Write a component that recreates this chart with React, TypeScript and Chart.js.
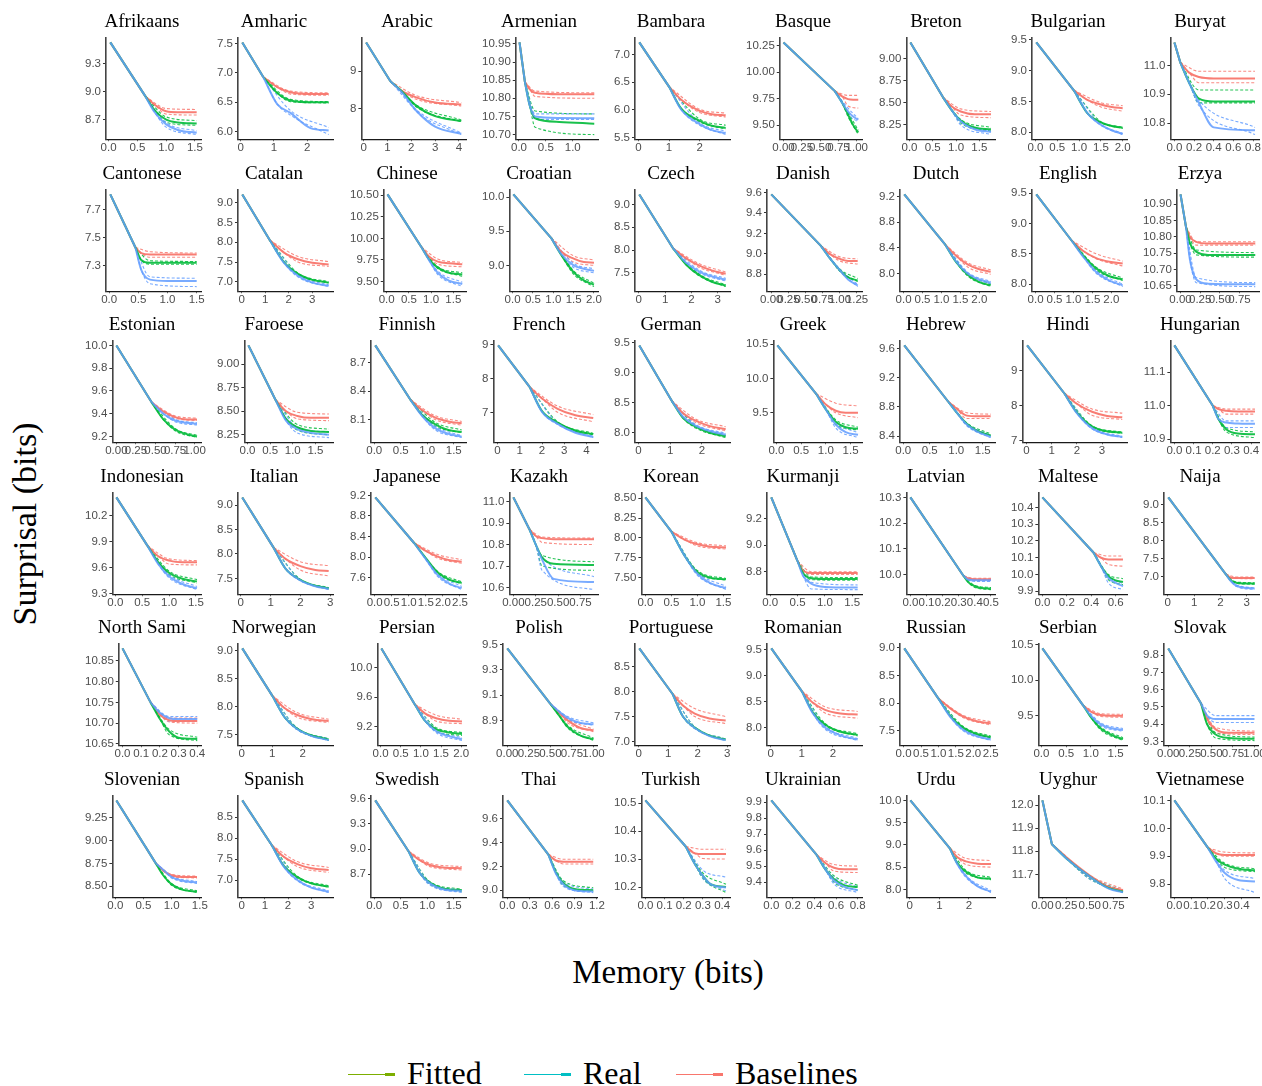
import React, { useEffect, useRef } from "react";
import { Chart, registerables } from "chart.js";

Chart.register(...registerables);

const LANGUAGES = [
  "Afrikaans", "Amharic", "Arabic", "Armenian", "Bambara", "Basque", "Breton", "Bulgarian", "Buryat",
  "Cantonese", "Catalan", "Chinese", "Croatian", "Czech", "Danish", "Dutch", "English", "Erzya",
  "Estonian", "Faroese", "Finnish", "French", "German", "Greek", "Hebrew", "Hindi", "Hungarian",
  "Indonesian", "Italian", "Japanese", "Kazakh", "Korean", "Kurmanji", "Latvian", "Maltese", "Naija",
  "North Sami", "Norwegian", "Persian", "Polish", "Portuguese", "Romanian", "Russian", "Serbian", "Slovak",
  "Slovenian", "Spanish", "Swedish", "Thai", "Turkish", "Ukrainian", "Urdu", "Uyghur", "Vietnamese",
];

// memory (bits) sample points: start, knee, then four points to the end
const MEMORY_X = [
  [0.03, 0.64, 0.8, 1.0, 1.2, 1.53], [0.05, 0.68, 1.1, 1.5, 2.1, 2.65], [0.1, 1.12, 1.6, 2.2, 3.0, 4.1],
  [0.01, 0.11, 0.2, 0.3, 0.75, 1.4], [0.03, 1.0, 1.4, 2.0, 2.4, 2.85], [0.0, 0.7, 0.8, 0.88, 0.95, 1.02],
  [0.02, 0.72, 0.9, 1.1, 1.4, 1.75], [0.02, 0.88, 1.2, 1.5, 1.75, 2.0], [0.0, 0.06, 0.15, 0.25, 0.4, 0.82],
  [0.02, 0.45, 0.55, 0.7, 1.0, 1.5], [0.03, 1.2, 1.8, 2.4, 3.0, 3.7], [0.02, 0.78, 0.95, 1.15, 1.4, 1.7],
  [0.02, 0.95, 1.2, 1.5, 1.75, 2.0], [0.02, 1.3, 1.8, 2.3, 2.8, 3.3], [0.0, 0.72, 0.85, 1.0, 1.12, 1.26],
  [0.02, 1.1, 1.4, 1.7, 2.0, 2.3], [0.02, 0.95, 1.25, 1.6, 1.95, 2.3], [0.0, 0.07, 0.12, 0.2, 0.35, 0.95],
  [0.0, 0.45, 0.6, 0.75, 0.9, 1.03], [0.02, 0.62, 0.85, 1.1, 1.4, 1.8], [0.02, 0.68, 0.9, 1.15, 1.4, 1.65],
  [0.03, 1.45, 2.0, 2.7, 3.5, 4.3], [0.03, 1.05, 1.4, 1.8, 2.25, 2.75], [0.02, 0.8, 1.0, 1.2, 1.4, 1.65],
  [0.02, 0.85, 1.0, 1.2, 1.4, 1.65], [0.03, 1.5, 2.0, 2.6, 3.2, 3.8], [0.0, 0.2, 0.23, 0.27, 0.33, 0.42],
  [0.02, 0.6, 0.8, 1.0, 1.25, 1.52], [0.05, 1.1, 1.5, 2.0, 2.5, 2.95], [0.02, 1.15, 1.5, 1.85, 2.2, 2.55],
  [0.0, 0.18, 0.25, 0.32, 0.45, 0.9], [0.0, 0.5, 0.75, 1.0, 1.25, 1.55], [0.02, 0.5, 0.6, 0.75, 1.0, 1.6],
  [0.0, 0.33, 0.36, 0.4, 0.44, 0.5], [0.0, 0.42, 0.48, 0.54, 0.6, 0.66], [0.02, 2.2, 2.4, 2.6, 2.9, 3.3],
  [0.0, 0.15, 0.2, 0.25, 0.3, 0.4], [0.02, 1.0, 1.4, 1.8, 2.3, 2.85], [0.02, 0.85, 1.1, 1.4, 1.7, 2.02],
  [0.0, 0.5, 0.6, 0.7, 0.85, 1.0], [0.02, 1.15, 1.5, 1.9, 2.4, 2.95], [0.02, 1.0, 1.35, 1.75, 2.25, 2.8],
  [0.02, 1.0, 1.35, 1.7, 2.1, 2.5], [0.02, 0.85, 1.0, 1.2, 1.45, 1.65], [0.0, 0.38, 0.45, 0.55, 0.7, 1.0],
  [0.02, 0.72, 0.85, 1.0, 1.2, 1.45], [0.03, 1.3, 1.8, 2.4, 3.0, 3.75], [0.02, 0.65, 0.85, 1.05, 1.3, 1.65],
  [0.0, 0.55, 0.65, 0.75, 0.9, 1.15], [0.0, 0.21, 0.26, 0.3, 0.34, 0.42], [0.0, 0.42, 0.5, 0.58, 0.68, 0.8],
  [0.02, 1.35, 1.6, 1.9, 2.3, 2.75], [0.0, 0.1, 0.25, 0.5, 0.7, 0.85], [0.0, 0.2, 0.25, 0.3, 0.38, 0.48],
];

// surprisal at start and at the knee, shared by all curves
const SHARED_Y = [
  [9.53, 8.95], [7.52, 6.93], [9.76, 8.73], [10.954, 10.845], [7.22, 6.42], [10.28, 9.82], [9.18, 8.56], [9.46, 8.68], [11.08, 11.01],
  [7.81, 7.43], [9.21, 8.05], [10.51, 9.9], [10.04, 9.4], [9.22, 8.04], [9.58, 9.08], [9.23, 8.45], [9.48, 8.72], [10.93, 10.83],
  [10.0, 9.5], [9.2, 8.62], [8.88, 8.31], [8.97, 7.75], [9.45, 8.53], [10.48, 9.78], [9.64, 8.87], [9.72, 8.35], [11.18, 11.0],
  [10.41, 9.85], [9.16, 8.13], [9.16, 8.28], [11.02, 10.87], [8.51, 8.08], [9.36, 8.88], [10.3, 9.995], [10.46, 10.13], [9.2, 7.08],
  [10.88, 10.75], [9.04, 8.2], [10.26, 9.5], [9.47, 9.03], [8.86, 7.95], [9.52, 8.7], [8.99, 8.08], [10.45, 9.64], [9.84, 9.52],
  [9.44, 8.75], [8.9, 7.83], [9.58, 8.97], [9.755, 9.3], [10.51, 10.345], [9.91, 9.57], [10.0, 8.93], [12.02, 11.83], [10.1, 9.93],
];

const BASELINE_Y = [
  [8.86, 8.79, 8.78, 8.78], [6.76, 6.67, 6.64, 6.64], [8.47, 8.3, 8.16, 8.11], [10.825, 10.815, 10.811, 10.811], [6.18, 5.98, 5.92, 5.9], [9.77, 9.745, 9.74, 9.74], [8.46, 8.4, 8.37, 8.37], [8.52, 8.45, 8.41, 8.39], [10.975, 10.96, 10.955, 10.955],
  [7.39, 7.38, 7.38, 7.38], [7.74, 7.57, 7.48, 7.44], [9.79, 9.73, 9.71, 9.7], [9.2, 9.1, 9.05, 9.04], [7.82, 7.66, 7.55, 7.48], [9.0, 8.95, 8.93, 8.93], [8.27, 8.14, 8.07, 8.03], [8.55, 8.43, 8.37, 8.34], [10.8, 10.785, 10.78, 10.78],
  [9.42, 9.37, 9.35, 9.35], [8.5, 8.45, 8.43, 8.43], [8.2, 8.12, 8.08, 8.06], [7.42, 7.12, 6.93, 6.85], [8.33, 8.2, 8.11, 8.06], [9.62, 9.53, 9.5, 9.5], [8.78, 8.68, 8.67, 8.67], [8.05, 7.82, 7.7, 7.66], [10.99, 10.985, 10.983, 10.983],
  [9.73, 9.68, 9.66, 9.66], [7.9, 7.75, 7.67, 7.65], [8.12, 8.01, 7.94, 7.91], [10.84, 10.83, 10.825, 10.825], [7.98, 7.92, 7.89, 7.88], [8.81, 8.79, 8.79, 8.79], [9.985, 9.982, 9.982, 9.982], [10.1, 10.09, 10.09, 10.09], [6.98, 6.97, 6.97, 6.97],
  [10.72, 10.707, 10.705, 10.705], [7.98, 7.86, 7.78, 7.75], [9.38, 9.31, 9.28, 9.27], [8.96, 8.9, 8.84, 8.82], [7.72, 7.56, 7.46, 7.42], [8.48, 8.34, 8.27, 8.25], [7.9, 7.76, 7.67, 7.63], [9.56, 9.51, 9.5, 9.5], [9.43, 9.37, 9.35, 9.35],
  [8.67, 8.62, 8.6, 8.6], [7.56, 7.38, 7.28, 7.24], [8.87, 8.81, 8.78, 8.77], [9.25, 9.24, 9.24, 9.24], [10.32, 10.318, 10.318, 10.318], [9.52, 9.49, 9.48, 9.48], [8.73, 8.63, 8.58, 8.57], [11.775, 11.695, 11.645, 11.632], [9.91, 9.905, 9.905, 9.905],
];

const FITTED_Y = [
  [8.8, 8.7, 8.67, 8.66], [6.66, 6.53, 6.5, 6.5], [8.46, 8.08, 7.8, 7.67], [10.78, 10.745, 10.735, 10.73], [6.02, 5.8, 5.71, 5.67], [9.71, 9.6, 9.5, 9.43], [8.42, 8.3, 8.22, 8.2], [8.3, 8.16, 8.1, 8.07], [10.94, 10.885, 10.875, 10.875],
  [7.34, 7.32, 7.32, 7.32], [7.5, 7.2, 7.05, 6.98], [9.76, 9.66, 9.6, 9.58], [9.15, 8.9, 8.78, 8.72], [7.68, 7.45, 7.3, 7.22], [8.96, 8.84, 8.77, 8.74], [8.17, 7.98, 7.87, 7.82], [8.48, 8.26, 8.13, 8.08], [10.78, 10.755, 10.745, 10.745],
  [9.35, 9.26, 9.22, 9.2], [8.42, 8.33, 8.29, 8.28], [8.15, 8.05, 7.99, 7.97], [7.05, 6.72, 6.48, 6.38], [8.25, 8.1, 8.0, 7.94], [9.55, 9.37, 9.29, 9.27], [8.73, 8.57, 8.47, 8.41], [7.8, 7.4, 7.26, 7.22], [10.96, 10.93, 10.917, 10.915],
  [9.66, 9.54, 9.47, 9.44], [7.7, 7.47, 7.35, 7.3], [7.98, 7.7, 7.56, 7.5], [10.8, 10.74, 10.71, 10.705], [7.78, 7.57, 7.5, 7.48], [8.79, 8.75, 8.745, 8.745], [9.97, 9.955, 9.948, 9.946], [10.05, 9.99, 9.965, 9.955], [6.9, 6.84, 6.82, 6.82],
  [10.71, 10.68, 10.665, 10.662], [7.82, 7.62, 7.49, 7.42], [9.28, 9.16, 9.12, 9.1], [8.94, 8.85, 8.78, 8.75], [7.5, 7.28, 7.12, 7.04], [8.3, 8.06, 7.92, 7.86], [7.76, 7.56, 7.44, 7.38], [9.48, 9.32, 9.22, 9.17], [9.4, 9.34, 9.32, 9.315],
  [8.62, 8.52, 8.46, 8.44], [7.35, 7.07, 6.92, 6.84], [8.72, 8.6, 8.53, 8.51], [9.15, 9.06, 9.01, 9.0], [10.28, 10.24, 10.21, 10.2], [9.48, 9.42, 9.38, 9.37], [8.6, 8.4, 8.27, 8.24], [11.77, 11.69, 11.64, 11.625], [9.89, 9.87, 9.855, 9.85],
];

const REAL_Y = [
  [8.78, 8.65, 8.59, 8.56], [6.47, 6.32, 6.06, 6.02], [8.44, 7.95, 7.52, 7.33], [10.78, 10.75, 10.746, 10.745], [6.0, 5.74, 5.63, 5.58], [9.71, 9.63, 9.58, 9.55], [8.42, 8.29, 8.2, 8.17], [8.3, 8.12, 8.03, 7.97], [10.94, 10.87, 10.785, 10.775],
  [7.27, 7.2, 7.19, 7.19], [7.48, 7.15, 6.98, 6.9], [9.75, 9.6, 9.51, 9.47], [9.16, 9.0, 8.95, 8.92], [7.72, 7.53, 7.42, 7.35], [8.96, 8.84, 8.75, 8.69], [8.18, 8.0, 7.91, 7.86], [8.46, 8.2, 8.06, 7.98], [10.73, 10.67, 10.657, 10.655],
  [9.4, 9.34, 9.32, 9.31], [8.4, 8.31, 8.27, 8.25], [8.14, 8.01, 7.95, 7.92], [7.03, 6.68, 6.42, 6.3], [8.27, 8.12, 8.03, 7.97], [9.55, 9.33, 9.22, 9.18], [8.73, 8.56, 8.46, 8.39], [7.78, 7.35, 7.17, 7.1], [10.96, 10.95, 10.947, 10.946],
  [9.64, 9.5, 9.41, 9.36], [7.7, 7.46, 7.34, 7.29], [7.96, 7.65, 7.48, 7.4], [10.8, 10.73, 10.64, 10.625], [7.78, 7.55, 7.43, 7.37], [8.77, 8.71, 8.685, 8.68], [9.98, 9.978, 9.978, 9.978], [10.05, 9.98, 9.95, 9.93], [6.88, 6.76, 6.7, 6.68],
  [10.725, 10.712, 10.71, 10.71], [7.82, 7.61, 7.48, 7.41], [9.28, 9.13, 9.07, 9.03], [8.97, 8.92, 8.88, 8.87], [7.5, 7.27, 7.11, 7.03], [8.28, 8.0, 7.85, 7.77], [7.74, 7.52, 7.4, 7.34], [9.5, 9.38, 9.32, 9.3], [9.45, 9.43, 9.43, 9.43],
  [8.68, 8.6, 8.56, 8.54], [7.33, 7.0, 6.82, 6.72], [8.72, 8.59, 8.52, 8.5], [9.14, 9.05, 9.0, 8.99], [10.28, 10.24, 10.21, 10.198], [9.48, 9.41, 9.37, 9.35], [8.58, 8.3, 8.07, 7.95], [11.77, 11.69, 11.638, 11.622], [9.88, 9.84, 9.815, 9.81],
];

// dashed bounds: [lower mid, lower end, upper mid, upper end]
const BASELINE_BAND = [
  [8.76, 8.75, 8.82, 8.81], [6.64, 6.62, 6.69, 6.66], [8.25, 8.07, 8.35, 8.16], [10.805, 10.8, 10.82, 10.815], [5.95, 5.87, 6.01, 5.94], [9.68, 9.66, 9.78, 9.78], [8.36, 8.33, 8.43, 8.4], [8.41, 8.34, 8.48, 8.43], [10.94, 10.94, 10.98, 10.98],
  [7.36, 7.36, 7.4, 7.39], [7.5, 7.39, 7.64, 7.51], [9.7, 9.67, 9.76, 9.72], [9.05, 9.0, 9.14, 9.08], [7.62, 7.45, 7.7, 7.52], [8.93, 8.9, 8.97, 8.95], [8.1, 7.99, 8.17, 8.06], [8.42, 8.3, 8.5, 8.38], [10.775, 10.775, 10.785, 10.785],
  [9.36, 9.34, 9.38, 9.36], [8.42, 8.4, 8.49, 8.47], [8.1, 8.04, 8.14, 8.08], [7.02, 6.74, 7.2, 6.95], [8.17, 8.03, 8.23, 8.1], [9.5, 9.43, 9.64, 9.6], [8.64, 8.64, 8.72, 8.7], [7.72, 7.6, 7.9, 7.78], [10.975, 10.975, 10.99, 10.99],
  [9.64, 9.63, 9.7, 9.68], [7.67, 7.55, 7.84, 7.76], [7.98, 7.88, 8.05, 7.95], [10.81, 10.8, 10.835, 10.83], [7.9, 7.86, 7.94, 7.9], [8.78, 8.78, 8.8, 8.8], [9.978, 9.978, 9.986, 9.986], [10.06, 10.05, 10.11, 10.11], [6.96, 6.95, 7.0, 7.0],
  [10.703, 10.7, 10.712, 10.712], [7.82, 7.72, 7.9, 7.78], [9.27, 9.24, 9.35, 9.3], [8.88, 8.81, 8.91, 8.83], [7.5, 7.36, 7.66, 7.5], [8.28, 8.18, 8.4, 8.31], [7.74, 7.6, 7.78, 7.66], [9.49, 9.48, 9.53, 9.52], [9.35, 9.34, 9.38, 9.36],
  [8.61, 8.59, 8.63, 8.61], [7.32, 7.18, 7.44, 7.3], [8.79, 8.75, 8.83, 8.79], [9.22, 9.22, 9.26, 9.26], [10.302, 10.3, 10.335, 10.335], [9.47, 9.46, 9.51, 9.5], [8.56, 8.5, 8.7, 8.65], [11.685, 11.628, 11.695, 11.636], [9.9, 9.9, 9.915, 9.912],
];

const FITTED_BAND = [
  [8.67, 8.64, 8.73, 8.69], [6.51, 6.49, 6.55, 6.51], [8.05, 7.65, 8.1, 7.7], [10.72, 10.7, 10.765, 10.757], [5.78, 5.65, 5.83, 5.72], [9.58, 9.41, 9.62, 9.45], [8.27, 8.18, 8.31, 8.22], [8.15, 8.06, 8.17, 8.08], [10.87, 10.87, 10.915, 10.915],
  [7.31, 7.31, 7.335, 7.33], [7.18, 6.97, 7.22, 7.0], [9.65, 9.56, 9.67, 9.6], [8.87, 8.69, 8.92, 8.74], [7.43, 7.2, 7.47, 7.24], [8.83, 8.73, 8.85, 8.76], [7.96, 7.8, 8.0, 7.84], [8.23, 8.06, 8.28, 8.1], [10.745, 10.738, 10.76, 10.752],
  [9.25, 9.19, 9.27, 9.21], [8.3, 8.25, 8.36, 8.31], [8.03, 7.96, 8.07, 7.99], [6.7, 6.36, 6.74, 6.4], [8.08, 7.92, 8.12, 7.96], [9.33, 9.25, 9.4, 9.29], [8.55, 8.4, 8.58, 8.43], [7.38, 7.2, 7.42, 7.24], [10.922, 10.905, 10.935, 10.922],
  [9.52, 9.42, 9.56, 9.46], [7.46, 7.28, 7.48, 7.31], [7.68, 7.48, 7.72, 7.52], [10.7, 10.68, 10.75, 10.72], [7.55, 7.47, 7.59, 7.49], [8.74, 8.735, 8.76, 8.755], [9.95, 9.942, 9.958, 9.95], [9.97, 9.94, 10.0, 9.975], [6.82, 6.8, 6.86, 6.84],
  [10.672, 10.658, 10.685, 10.666], [7.6, 7.4, 7.63, 7.43], [9.13, 9.08, 9.18, 9.12], [8.84, 8.74, 8.86, 8.76], [7.26, 7.02, 7.29, 7.05], [8.04, 7.84, 8.08, 7.88], [7.54, 7.36, 7.58, 7.4], [9.3, 9.15, 9.34, 9.19], [9.32, 9.305, 9.35, 9.325],
  [8.51, 8.43, 8.53, 8.45], [7.05, 6.82, 7.09, 6.86], [8.58, 8.49, 8.61, 8.52], [9.04, 8.99, 9.08, 9.02], [10.23, 10.18, 10.25, 10.21], [9.4, 9.35, 9.44, 9.38], [8.37, 8.22, 8.43, 8.27], [11.68, 11.623, 11.69, 11.628], [9.86, 9.845, 9.875, 9.855],
];

const REAL_BAND = [
  [8.62, 8.54, 8.67, 8.58], [6.28, 5.95, 6.36, 6.07], [7.93, 7.31, 7.97, 7.35], [10.742, 10.742, 10.757, 10.757], [5.72, 5.55, 5.76, 5.61], [9.6, 9.53, 9.66, 9.56], [8.25, 8.14, 8.29, 8.18], [8.11, 7.96, 8.13, 7.98], [10.86, 10.76, 10.88, 10.785],
  [7.17, 7.15, 7.22, 7.21], [7.12, 6.88, 7.18, 6.92], [9.58, 9.44, 9.62, 9.49], [8.97, 8.89, 9.03, 8.95], [7.5, 7.32, 7.56, 7.38], [8.83, 8.68, 8.85, 8.7], [7.98, 7.84, 8.02, 7.88], [8.18, 7.96, 8.22, 8.0], [10.66, 10.648, 10.675, 10.66],
  [9.33, 9.3, 9.35, 9.32], [8.27, 8.22, 8.33, 8.28], [7.99, 7.91, 8.03, 7.93], [6.66, 6.28, 6.7, 6.32], [8.1, 7.95, 8.14, 7.99], [9.28, 9.14, 9.36, 9.21], [8.54, 8.38, 8.57, 8.41], [7.33, 7.08, 7.37, 7.12], [10.935, 10.935, 10.955, 10.955],
  [9.48, 9.345, 9.52, 9.38], [7.45, 7.27, 7.47, 7.3], [7.62, 7.37, 7.67, 7.43], [10.68, 10.59, 10.74, 10.65], [7.53, 7.35, 7.57, 7.39], [8.67, 8.665, 8.72, 8.7], [9.974, 9.974, 9.982, 9.982], [9.95, 9.91, 9.99, 9.945], [6.74, 6.65, 6.78, 6.7],
  [10.705, 10.705, 10.716, 10.716], [7.6, 7.4, 7.63, 7.43], [9.11, 9.01, 9.15, 9.05], [8.91, 8.86, 8.93, 8.88], [7.26, 7.02, 7.29, 7.05], [7.97, 7.75, 8.03, 7.79], [7.5, 7.32, 7.54, 7.36], [9.36, 9.28, 9.4, 9.32], [9.41, 9.41, 9.45, 9.45],
  [8.59, 8.53, 8.61, 8.55], [6.98, 6.7, 7.02, 6.74], [8.57, 8.48, 8.6, 8.51], [9.03, 8.98, 9.07, 9.01], [10.23, 10.186, 10.26, 10.235], [9.39, 9.335, 9.43, 9.37], [8.27, 7.93, 8.32, 7.97], [11.68, 11.621, 11.69, 11.626], [9.82, 9.77, 9.85, 9.82],
];

const X_TICK_LABELS = [
  ["0.0", "0.5", "1.0", "1.5"], ["0", "1", "2"], ["0", "1", "2", "3", "4"], ["0.0", "0.5", "1.0"], ["0", "1", "2"], ["0.00", "0.25", "0.50", "0.75", "1.00"], ["0.0", "0.5", "1.0", "1.5"], ["0.0", "0.5", "1.0", "1.5", "2.0"], ["0.0", "0.2", "0.4", "0.6", "0.8"],
  ["0.0", "0.5", "1.0", "1.5"], ["0", "1", "2", "3"], ["0.0", "0.5", "1.0", "1.5"], ["0.0", "0.5", "1.0", "1.5", "2.0"], ["0", "1", "2", "3"], ["0.00", "0.25", "0.50", "0.75", "1.00", "1.25"], ["0.0", "0.5", "1.0", "1.5", "2.0"], ["0.0", "0.5", "1.0", "1.5", "2.0"], ["0.00", "0.25", "0.50", "0.75", "1.00"],
  ["0.00", "0.25", "0.50", "0.75", "1.00"], ["0.0", "0.5", "1.0", "1.5"], ["0.0", "0.5", "1.0", "1.5"], ["0", "1", "2", "3", "4"], ["0", "1", "2"], ["0.0", "0.5", "1.0", "1.5"], ["0.0", "0.5", "1.0", "1.5"], ["0", "1", "2", "3"], ["0.0", "0.1", "0.2", "0.3", "0.4"],
  ["0.0", "0.5", "1.0", "1.5"], ["0", "1", "2", "3"], ["0.0", "0.5", "1.0", "1.5", "2.0", "2.5"], ["0.00", "0.25", "0.50", "0.75"], ["0.0", "0.5", "1.0", "1.5"], ["0.0", "0.5", "1.0", "1.5"], ["0.0", "0.1", "0.2", "0.3", "0.4", "0.5"], ["0.0", "0.2", "0.4", "0.6"], ["0", "1", "2", "3"],
  ["0.0", "0.1", "0.2", "0.3", "0.4"], ["0", "1", "2", "3"], ["0.0", "0.5", "1.0", "1.5", "2.0"], ["0.00", "0.25", "0.50", "0.75", "1.00"], ["0", "1", "2", "3"], ["0", "1", "2"], ["0.0", "0.5", "1.0", "1.5", "2.0", "2.5"], ["0.0", "0.5", "1.0", "1.5"], ["0.00", "0.25", "0.50", "0.75", "1.00"],
  ["0.0", "0.5", "1.0", "1.5"], ["0", "1", "2", "3"], ["0.0", "0.5", "1.0", "1.5"], ["0.0", "0.3", "0.6", "0.9", "1.2"], ["0.0", "0.1", "0.2", "0.3", "0.4"], ["0.0", "0.2", "0.4", "0.6", "0.8"], ["0", "1", "2"], ["0.00", "0.25", "0.50", "0.75"], ["0.0", "0.1", "0.2", "0.3", "0.4"],
];

const Y_TICK_LABELS = [
  ["8.7", "9.0", "9.3"], ["6.0", "6.5", "7.0", "7.5"], ["8", "9"], ["10.70", "10.75", "10.80", "10.85", "10.90", "10.95"], ["5.5", "6.0", "6.5", "7.0"], ["9.50", "9.75", "10.00", "10.25"], ["8.25", "8.50", "8.75", "9.00"], ["8.0", "8.5", "9.0", "9.5"], ["10.8", "10.9", "11.0"],
  ["7.3", "7.5", "7.7"], ["7.0", "7.5", "8.0", "8.5", "9.0"], ["9.50", "9.75", "10.00", "10.25", "10.50"], ["9.0", "9.5", "10.0"], ["7.5", "8.0", "8.5", "9.0"], ["8.8", "9.0", "9.2", "9.4", "9.6"], ["8.0", "8.4", "8.8", "9.2"], ["8.0", "8.5", "9.0", "9.5"], ["10.65", "10.70", "10.75", "10.80", "10.85", "10.90"],
  ["9.2", "9.4", "9.6", "9.8", "10.0"], ["8.25", "8.50", "8.75", "9.00"], ["8.1", "8.4", "8.7"], ["7", "8", "9"], ["8.0", "8.5", "9.0", "9.5"], ["9.5", "10.0", "10.5"], ["8.4", "8.8", "9.2", "9.6"], ["7", "8", "9"], ["10.9", "11.0", "11.1"],
  ["9.3", "9.6", "9.9", "10.2"], ["7.5", "8.0", "8.5", "9.0"], ["7.6", "8.0", "8.4", "8.8", "9.2"], ["10.6", "10.7", "10.8", "10.9", "11.0"], ["7.50", "7.75", "8.00", "8.25", "8.50"], ["8.8", "9.0", "9.2"], ["10.0", "10.1", "10.2", "10.3"], ["9.9", "10.0", "10.1", "10.2", "10.3", "10.4"], ["7.0", "7.5", "8.0", "8.5", "9.0"],
  ["10.65", "10.70", "10.75", "10.80", "10.85"], ["7.5", "8.0", "8.5", "9.0"], ["9.2", "9.6", "10.0"], ["8.9", "9.1", "9.3", "9.5"], ["7.0", "7.5", "8.0", "8.5"], ["8.0", "8.5", "9.0", "9.5"], ["7.5", "8.0", "8.5", "9.0"], ["9.5", "10.0", "10.5"], ["9.3", "9.4", "9.5", "9.6", "9.7", "9.8"],
  ["8.50", "8.75", "9.00", "9.25"], ["7.0", "7.5", "8.0", "8.5"], ["8.7", "9.0", "9.3", "9.6"], ["9.0", "9.2", "9.4", "9.6"], ["10.2", "10.3", "10.4", "10.5"], ["9.4", "9.5", "9.6", "9.7", "9.8", "9.9"], ["8.0", "8.5", "9.0", "9.5", "10.0"], ["11.7", "11.8", "11.9", "12.0"], ["9.8", "9.9", "10.0", "10.1"],
];

const LEGEND_LABELS = ["Fitted", "Real", "Baselines"];
const LEGEND_COLORS = ["#7CAE00", "#00BFC4", "#F8766D"];
const LEGEND_X = [348, 524, 676];

const RED = "rgba(248,118,109,0.95)";
const GREEN = "rgba(0,186,56,0.9)";
const BLUE = "rgba(97,156,255,0.85)";
const RED_D = "rgba(248,118,109,0.85)";
const GREEN_D = "rgba(0,186,56,0.85)";
const BLUE_D = "rgba(97,156,255,0.85)";

const PANEL_W = 132;
const PANEL_H = 149;
const COL_STEP = 132.25;
const ROW_STEP = 151.6;
const LEFT0 = 76;
const TOP0 = 6;
const TICK_FONT = { family: "'Liberation Sans', Arial, sans-serif", size: 11.5 };

function makeAxis(labels: string[], min: number, max: number, isX: boolean) {
  return {
    type: "linear",
    min,
    max,
    afterBuildTicks: (axis: any) => {
      axis.ticks = labels
        .map((l) => Number(l))
        .filter((v) => v >= min - 1e-9 && v <= max + 1e-9)
        .map((value) => ({ value }));
    },
    ticks: {
      autoSkip: false,
      maxRotation: 0,
      minRotation: 0,
      padding: isX ? 0 : 2,
      color: "#4d4d4d",
      font: TICK_FONT,
      callback: (v: number) => labels.find((l) => Math.abs(Number(l) - v) < 1e-9) ?? "",
    },
    grid: { drawOnChartArea: false, drawTicks: true, tickLength: isX ? 2 : 3, color: "#333" },
    border: { display: true, color: isX ? "#1a1a1a" : "#444", width: isX ? 1.3 : 1.6 },
  };
}

function Panel({ i }: { i: number }) {
  const ref = useRef<HTMLCanvasElement | null>(null);
  useEffect(() => {
    const canvas = ref.current;
    if (!canvas) return;
    const xs = MEMORY_X[i];
    const [y0, yk] = SHARED_Y[i];
    const shared = [
      { x: xs[0], y: y0 },
      { x: xs[1], y: yk },
    ];
    const curve = (vals: number[]) => [{ x: xs[1], y: yk }, ...vals.map((v, j) => ({ x: xs[j + 2], y: v }))];
    const lower = (vals: number[], b: number[]) => [
      { x: xs[1], y: yk },
      { x: xs[2], y: vals[0] },
      { x: xs[3], y: b[0] },
      { x: xs[5], y: b[1] },
    ];
    const upper = (b: number[]) => [
      { x: xs[1], y: yk },
      { x: xs[3], y: b[2] },
      { x: xs[5], y: b[3] },
    ];
    const ys = [y0, yk, ...BASELINE_Y[i], ...FITTED_Y[i], ...REAL_Y[i], ...BASELINE_BAND[i], ...FITTED_BAND[i], ...REAL_BAND[i]];
    const yMin = Math.min(...ys);
    const yMax = Math.max(...ys);
    const xMin = xs[0];
    const xMax = xs[5];
    const yPad = (yMax - yMin) * 0.05;
    const xPad = (xMax - xMin) * 0.05;
    const line = (data: any[], color: string, width: number, dash: number[], smooth = true) => ({
      data,
      borderColor: color,
      backgroundColor: color,
      borderWidth: width,
      borderDash: dash,
      pointRadius: 0,
      pointHoverRadius: 0,
      cubicInterpolationMode: smooth ? "monotone" : "default",
      tension: 0,
      fill: false,
    });
    const datasets = [
      line(shared, BLUE, 2, [], false),
      line(curve(REAL_Y[i]), BLUE, 2, []),
      line(curve(FITTED_Y[i]), GREEN, 2, []),
      line(shared, GREEN, 2, [], false),
      line(curve(BASELINE_Y[i]), RED, 2, []),
      line(shared, RED, 2, [], false),
      line(lower(REAL_Y[i], REAL_BAND[i]), BLUE_D, 1.1, [3, 2]),
      line(upper(REAL_BAND[i]), BLUE_D, 1.1, [3, 2]),
      line(lower(FITTED_Y[i], FITTED_BAND[i]), GREEN_D, 1.1, [3, 2]),
      line(upper(FITTED_BAND[i]), GREEN_D, 1.1, [3, 2]),
      line(lower(BASELINE_Y[i], BASELINE_BAND[i]), RED_D, 1.1, [3, 2]),
      line(upper(BASELINE_BAND[i]), RED_D, 1.1, [3, 2]),
    ];
    const chart = new Chart(canvas, {
      type: "line",
      data: { datasets } as any,
      options: {
        responsive: false,
        animation: false,
        devicePixelRatio: 1,
        events: [],
        layout: { padding: { left: 7, right: 7, top: 0, bottom: 0 } },
        plugins: {
          legend: { display: false },
          tooltip: { enabled: false },
          title: {
            display: true,
            text: LANGUAGES[i],
            color: "#000",
            font: { family: "'Liberation Serif', 'Times New Roman', serif", size: 19, weight: "normal" },
            padding: { top: 5, bottom: 4 },
          },
        },
        scales: {
          x: makeAxis(X_TICK_LABELS[i], xMin - xPad, xMax + xPad, true),
          y: makeAxis(Y_TICK_LABELS[i], yMin - yPad, yMax + yPad, false),
        } as any,
      } as any,
    });
    return () => chart.destroy();
  }, [i]);
  const col = i % 9;
  const row = Math.floor(i / 9);
  return (
    <canvas
      ref={ref}
      width={PANEL_W}
      height={PANEL_H}
      style={{ position: "absolute", left: LEFT0 + col * COL_STEP, top: TOP0 + row * ROW_STEP, width: PANEL_W, height: PANEL_H }}
    />
  );
}

export default function App() {
  const serif = "'Liberation Serif', 'Times New Roman', serif";
  return (
    <div style={{ position: "absolute", left: 0, top: 0, width: 1262, height: 1086, overflow: "hidden", background: "#fff" }}>
      {LANGUAGES.map((_, i) => (
        <Panel key={i} i={i} />
      ))}
      <div
        style={{
          position: "absolute",
          left: 25,
          top: 524,
          transform: "translate(-50%, -50%) rotate(-90deg)",
          fontFamily: serif,
          fontSize: 34,
          whiteSpace: "nowrap",
          color: "#000",
        }}
      >
        Surprisal (bits)
      </div>
      <div
        style={{
          position: "absolute",
          left: 668,
          top: 972,
          transform: "translate(-50%, -50%)",
          fontFamily: serif,
          fontSize: 33,
          whiteSpace: "nowrap",
          color: "#000",
        }}
      >
        Memory (bits)
      </div>
      {LEGEND_LABELS.map((label, k) => (
        <div key={label}>
          <div style={{ position: "absolute", left: LEGEND_X[k], top: 1074, width: 37, height: 1, background: LEGEND_COLORS[k] }} />
          <div style={{ position: "absolute", left: LEGEND_X[k] + 37, top: 1073, width: 10, height: 3, background: LEGEND_COLORS[k] }} />
          <div
            style={{
              position: "absolute",
              left: LEGEND_X[k] + 59,
              top: 1073,
              transform: "translateY(-50%)",
              fontFamily: serif,
              fontSize: 32,
              lineHeight: "32px",
              whiteSpace: "nowrap",
              color: "#000",
            }}
          >
            {label}
          </div>
        </div>
      ))}
    </div>
  );
}
